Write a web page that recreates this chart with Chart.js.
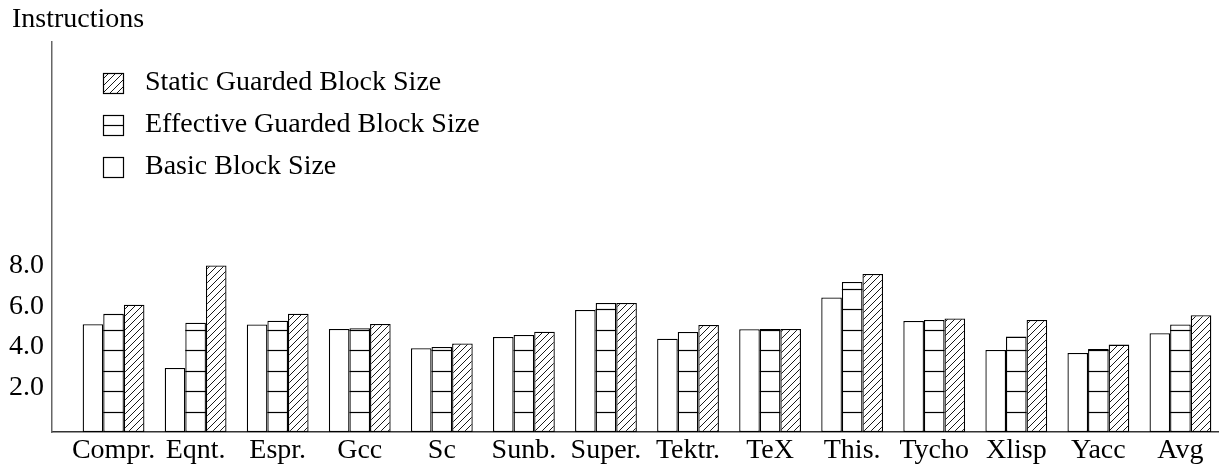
<!DOCTYPE html>
<html>
<head>
<meta charset="utf-8">
<script src="https://cdn.jsdelivr.net/npm/chart.js@4.4.1/dist/chart.umd.min.js"></script>
<style>
  html, body { margin: 0; padding: 0; background: #fff; }
  #wrap { width: 1219px; height: 466px; }
</style>
</head>
<body>
<div id="wrap"><canvas id="c" width="1219" height="466"></canvas></div>
<script>
// Benchmarks on the x axis
const categories = ['Compr.', 'Eqnt.', 'Espr.', 'Gcc', 'Sc', 'Sunb.', 'Super.', 'Tektr.', 'TeX', 'This.', 'Tycho', 'Xlisp', 'Yacc', 'Avg'];

// Average block sizes, in instructions
const basicBlockSize = [5.26, 3.13, 5.25, 5.03, 4.09, 4.64, 5.96, 4.56, 5.02, 6.57, 5.42, 4.01, 3.86, 4.82];
const effectiveGuardedSize = [5.77, 5.34, 5.44, 5.07, 4.15, 4.74, 6.30, 4.89, 5.03, 7.33, 5.47, 4.66, 4.05, 5.25];
const staticGuardedSize = [6.22, 8.13, 5.78, 5.28, 4.32, 4.90, 6.30, 5.23, 5.03, 7.72, 5.55, 5.47, 4.27, 5.70];

// Labelled values on the y axis
const yTickValues = [2, 4, 6, 8];

const seriesLabels = ['Basic Block Size', 'Effective Guarded Block Size', 'Static Guarded Block Size'];
const yTitle = 'Instructions';

const FONT = "'Liberation Serif', 'Times New Roman', serif";
const FONT_SIZE = 28;

// Diagonal "/" hatching used for the static guarded bars
function makeHatch() {
  const s = 7;
  const c = document.createElement('canvas');
  c.width = s; c.height = s;
  const g = c.getContext('2d');
  g.fillStyle = '#fff';
  g.fillRect(0, 0, s, s);
  g.strokeStyle = '#000';
  g.lineWidth = 0.9;
  g.beginPath();
  g.moveTo(-1, s + 1); g.lineTo(s + 1, -1);
  g.moveTo(-1, 1); g.lineTo(1, -1);
  g.moveTo(s - 1, s + 1); g.lineTo(s + 1, s - 1);
  g.stroke();
  return g.createPattern(c, 'repeat');
}
const hatch = makeHatch();

const toPoints = arr => arr.map((v, i) => ({ x: i, y: v }));

// Horizontal rules at every whole instruction inside the effective bars
const stripePlugin = {
  id: 'stripes',
  afterDatasetsDraw(chart) {
    const meta = chart.getDatasetMeta(1);
    const yScale = chart.scales.y;
    const ctx = chart.ctx;
    ctx.save();
    ctx.strokeStyle = '#000';
    ctx.lineWidth = 1.2;
    meta.data.forEach((bar, i) => {
      const v = chart.data.datasets[1].data[i].y;
      const half = bar.width / 2;
      for (let k = 1; k < v; k++) {
        const py = Math.round(yScale.getPixelForValue(k)) + 0.5;
        if (py <= bar.y + 1) continue;
        ctx.beginPath();
        ctx.moveTo(bar.x - half, py);
        ctx.lineTo(bar.x + half, py);
        ctx.stroke();
      }
    });
    ctx.restore();
  }
};

// Axis title at the top left and the key inside the plot
const annotatePlugin = {
  id: 'annotate',
  afterDraw(chart) {
    const ctx = chart.ctx;
    ctx.save();
    ctx.fillStyle = '#000';
    ctx.font = FONT_SIZE + 'px ' + FONT;
    ctx.textAlign = 'left';
    ctx.textBaseline = 'alphabetic';
    ctx.fillText(yTitle, 12, 27);

    const items = chart.data.datasets.map((d, i) => ({ ds: d, i })).reverse();
    const boxX = 103, boxSize = 20, textX = 145;
    items.forEach((it, row) => {
      const top = 73 + row * 42;
      ctx.fillStyle = it.ds.backgroundColor;
      ctx.fillRect(boxX, top, boxSize, boxSize);
      ctx.strokeStyle = '#000';
      ctx.lineWidth = 1.2;
      ctx.strokeRect(boxX + 0.5, top + 0.5, boxSize, boxSize);
      if (it.i === 1) {
        ctx.beginPath();
        ctx.moveTo(boxX, top + boxSize / 2 + 0.5);
        ctx.lineTo(boxX + boxSize, top + boxSize / 2 + 0.5);
        ctx.stroke();
      }
      ctx.fillStyle = '#000';
      ctx.textBaseline = 'middle';
      ctx.fillText(it.ds.label, textX, top + boxSize / 2);
    });
    ctx.restore();
  }
};

const barStyle = {
  borderColor: '#000',
  borderWidth: 1.3,
  borderSkipped: false,
  categoryPercentage: 0.753,
  barPercentage: 1.0
};

new Chart(document.getElementById('c'), {
  type: 'bar',
  data: {
    datasets: [
      Object.assign({ label: seriesLabels[0], data: toPoints(basicBlockSize), backgroundColor: '#fff' }, barStyle),
      Object.assign({ label: seriesLabels[1], data: toPoints(effectiveGuardedSize), backgroundColor: '#fff' }, barStyle),
      Object.assign({ label: seriesLabels[2], data: toPoints(staticGuardedSize), backgroundColor: hatch }, barStyle)
    ]
  },
  options: {
    responsive: false,
    animation: false,
    layout: { padding: { top: 42, left: 0, right: 0, bottom: 0 } },
    plugins: {
      legend: { display: false },
      tooltip: { enabled: false },
      title: { display: false }
    },
    scales: {
      x: {
        type: 'linear',
        offset: false,
        min: -0.75,
        max: 13.47,
        grid: { display: false, drawTicks: false },
        border: { display: true, color: '#333', width: 1.5 },
        afterBuildTicks(scale) {
          scale.ticks = categories.map((_, i) => ({ value: i }));
        },
        afterFit(scale) { scale.height = 34; },
        ticks: {
          autoSkip: false,
          maxRotation: 0,
          minRotation: 0,
          padding: 2,
          color: '#000',
          font: { family: FONT, size: FONT_SIZE },
          callback: v => categories[v]
        }
      },
      y: {
        type: 'linear',
        min: 0,
        max: 19.05,
        grid: { display: false, drawTicks: false },
        border: { display: true, color: '#666', width: 1.5 },
        afterBuildTicks(scale) {
          scale.ticks = yTickValues.map(v => ({ value: v }));
        },
        afterFit(scale) { scale.width = 52; },
        ticks: {
          padding: 8,
          labelOffset: -3,
          color: '#000',
          font: { family: FONT, size: FONT_SIZE },
          callback: v => Number(v).toFixed(1)
        }
      }
    }
  },
  plugins: [stripePlugin, annotatePlugin]
});
</script>
</body>
</html>
